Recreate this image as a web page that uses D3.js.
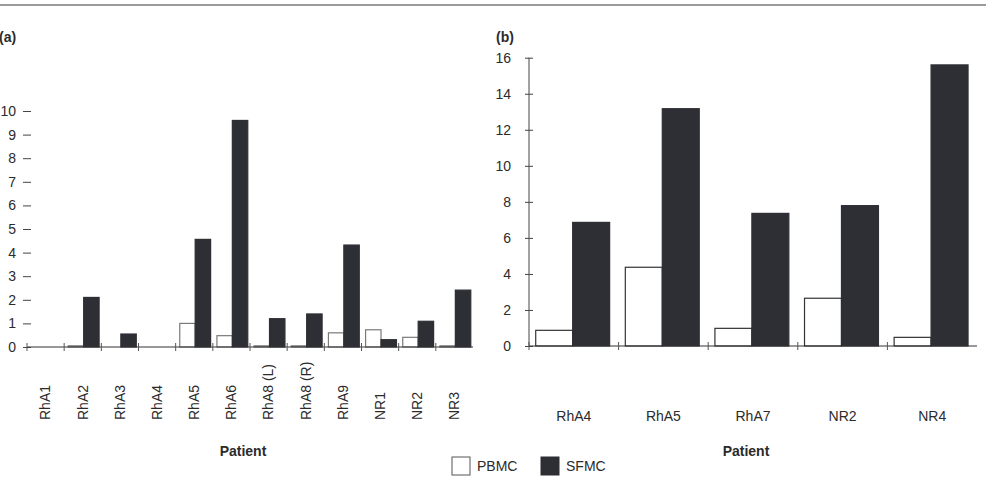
<!DOCTYPE html>
<html>
<head>
<meta charset="utf-8">
<script src="https://cdn.jsdelivr.net/npm/d3@7"></script>
<style>
  body { margin: 0; background: #fff; }
  svg text { font-family: "Liberation Sans", Arial, sans-serif; fill: #2b2b2b; }
</style>
</head>
<body>
<div id="chart"></div>
<script>
// Panel (a) data
var patientsA = ["RhA1", "RhA2", "RhA3", "RhA4", "RhA5", "RhA6", "RhA8 (L)", "RhA8 (R)", "RhA9", "NR1", "NR2", "NR3"];
var pbmcA = [0, 0.05, 0, 0, 1.0, 0.48, 0.05, 0.05, 0.6, 0.73, 0.41, 0.05];
var sfmcA = [0, 2.1, 0.55, 0, 4.56, 9.6, 1.2, 1.4, 4.32, 0.31, 1.09, 2.41];
var ticksA = [0, 1, 2, 3, 4, 5, 6, 7, 8, 9, 10];

// Panel (b) data
var patientsB = ["RhA4", "RhA5", "RhA7", "NR2", "NR4"];
var pbmcB = [0.87, 4.37, 0.98, 2.65, 0.48];
var sfmcB = [6.86, 13.17, 7.36, 7.79, 15.6];
var ticksB = [0, 2, 4, 6, 8, 10, 12, 14, 16];

var series = ["PBMC", "SFMC"];
var dark = "#2e2f34";

var svg = d3.select("#chart").append("svg")
    .attr("width", 986)
    .attr("height", 488);

// top rule
svg.append("line")
    .attr("x1", 0).attr("x2", 986)
    .attr("y1", 5).attr("y2", 5)
    .attr("stroke", "#7a7a7a")
    .attr("stroke-width", 1.6);

function panel(opts) {
    var g = svg.append("g");
    var x = d3.scaleBand().domain(opts.cats).range(opts.xRange);
    var y = d3.scaleLinear().domain(opts.yDomain).range(opts.yRange);
    var sub = d3.scaleBand().domain(series)
        .range([x.bandwidth() * opts.subLo, x.bandwidth() * opts.subHi]);
    var y0 = y(0);
    var ax = opts.xRange[0];

    // y axis ticks
    var yAxis = g.append("g")
        .attr("transform", `translate(${ax},0)`)
        .call(d3.axisLeft(y).tickValues(opts.ticks).tickSize(4).tickPadding(opts.tickPad));
    yAxis.selectAll(".tick line").attr("x1", 4).attr("stroke", "#444");
    yAxis.selectAll(".tick text").style("font-size", "14px").attr("fill", "#2b2b2b");
    if (opts.showYLine) {
        yAxis.select(".domain").attr("d", `M0,${opts.yRange[0]}V${opts.yRange[1]}`).attr("stroke", "#444");
    } else {
        yAxis.select(".domain").remove();
    }

    // bars
    var rows = opts.cats.map((c, i) => ({ cat: c, vals: [opts.pbmc[i], opts.sfmc[i]] }));
    var grp = g.selectAll(".grp").data(rows).enter().append("g")
        .attr("transform", d => `translate(${x(d.cat)},0)`);
    grp.selectAll("rect")
        .data(d => d.vals.map((v, k) => ({ key: series[k], value: v })))
        .enter().append("rect")
        .filter(d => d.value > 0)
        .attr("x", d => sub(d.key))
        .attr("width", sub.bandwidth())
        .attr("y", d => y(d.value))
        .attr("height", d => y0 - y(d.value))
        .attr("fill", d => d.key === "PBMC" ? "#fff" : dark)
        .attr("stroke", d => d.key === "PBMC" ? opts.pbmcStroke : dark)
        .attr("stroke-width", 1.2);

    // x axis line + boundary ticks
    g.append("line")
        .attr("x1", opts.xRange[0]).attr("x2", opts.xRange[1])
        .attr("y1", y0).attr("y2", y0)
        .attr("stroke", "#333").attr("stroke-width", 1.2);
    g.selectAll(".xt").data(opts.cats).enter().append("line")
        .attr("x1", d => x(d)).attr("x2", d => x(d))
        .attr("y1", y0 - 4).attr("y2", y0 + 4)
        .attr("stroke", "#555");

    // category labels
    if (opts.rotate) {
        g.selectAll(".xl").data(opts.cats).enter().append("text")
            .attr("transform", d => `translate(${x(d) + x.bandwidth() / 2},${opts.labelY}) rotate(-90)`)
            .attr("dy", "0.35em")
            .attr("text-anchor", "start")
            .style("font-size", "14px")
            .text(d => d);
    } else {
        g.selectAll(".xl").data(opts.cats).enter().append("text")
            .attr("x", d => x(d) + x.bandwidth() / 2)
            .attr("y", opts.labelY)
            .attr("dy", "0.35em")
            .attr("text-anchor", "middle")
            .style("font-size", "14px")
            .text(d => d);
    }

    // axis title
    g.append("text")
        .attr("x", opts.titleX)
        .attr("y", 451)
        .attr("dy", "0.35em")
        .attr("text-anchor", "middle")
        .style("font-size", "14px")
        .style("font-weight", "bold")
        .text("Patient");

    // panel letter
    g.append("text")
        .attr("x", opts.letterX)
        .attr("y", 37)
        .attr("dy", "0.35em")
        .style("font-size", "14px")
        .style("font-weight", "bold")
        .text(opts.letter);
}

panel({
    cats: patientsA, pbmc: pbmcA, sfmc: sfmcA, ticks: ticksA,
    xRange: [27, 473], yDomain: [0, 10], yRange: [347, 111],
    subLo: 0.11, subHi: 0.94, tickPad: 7, showYLine: false,
    pbmcStroke: "#7a7a7a", rotate: true, labelY: 420,
    titleX: 243, letterX: -1, letter: "(a)"
});

panel({
    cats: patientsB, pbmc: pbmcB, sfmc: sfmcB, ticks: ticksB,
    xRange: [529, 977], yDomain: [0, 16], yRange: [346, 57.7],
    subLo: 0.075, subHi: 0.9, tickPad: 14, showYLine: true,
    pbmcStroke: "#333", rotate: false, labelY: 416,
    titleX: 746, letterX: 496, letter: "(b)"
});

// legend
var legend = svg.append("g");
var legX = [452, 541];
series.forEach(function (s, i) {
    legend.append("rect")
        .attr("x", legX[i]).attr("y", 457)
        .attr("width", 18).attr("height", 18)
        .attr("fill", s === "PBMC" ? "#fff" : dark)
        .attr("stroke", s === "PBMC" ? "#555" : dark);
    legend.append("text")
        .attr("x", legX[i] + 25).attr("y", 466.5)
        .attr("dy", "0.35em")
        .style("font-size", "14px")
        .text(s);
});
</script>
</body>
</html>
